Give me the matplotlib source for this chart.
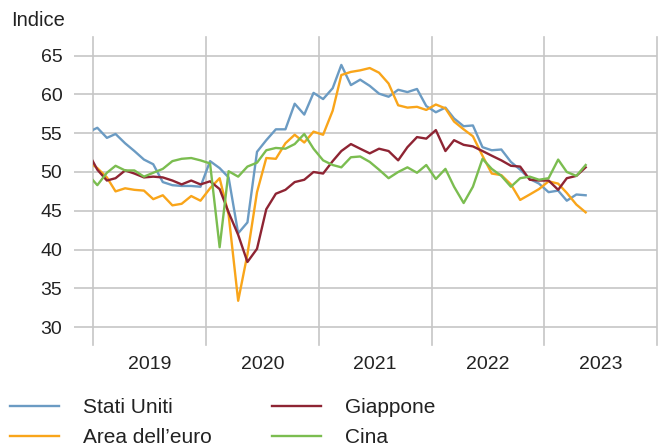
import matplotlib
matplotlib.use("Agg")
import matplotlib.pyplot as plt
import numpy as np
import pandas as pd

plt.rcParams['font.family'] = ['Liberation Sans', 'DejaVu Sans']

# monthly PMI readings, Dec 2018 - May 2023 (plotted mid-month)
months = pd.date_range('2018-12-01', '2023-05-01', freq='MS') + pd.Timedelta(days=14)

stati_uniti = [55.1,
               55.7, 54.4, 54.9, 53.7, 52.7, 51.6, 51.0, 48.7, 48.3, 48.2, 48.2, 48.1,
               51.4, 50.5, 49.3, 42.1, 43.5, 52.6, 54.1, 55.5, 55.5, 58.8, 57.4, 60.2,
               59.4, 60.8, 63.8, 61.2, 61.9, 61.1, 60.1, 59.7, 60.6, 60.3, 60.7, 58.5,
               57.7, 58.3, 56.9, 55.9, 56.0, 53.2, 52.8, 52.9, 51.3, 50.3, 49.1, 48.5,
               47.4, 47.6, 46.3, 47.1, 47.0]
area_euro = [51.4,
             50.5, 49.3, 47.5, 47.9, 47.7, 47.6, 46.5, 47.0, 45.7, 45.9, 46.9, 46.3,
             47.9, 49.2, 44.5, 33.4, 39.4, 47.4, 51.8, 51.7, 53.7, 54.8, 53.8, 55.2,
             54.8, 57.9, 62.5, 62.9, 63.1, 63.4, 62.8, 61.4, 58.6, 58.3, 58.4, 58.0,
             58.7, 58.2, 56.5, 55.5, 54.6, 52.1, 49.8, 49.6, 48.4, 46.4, 47.1, 47.8,
             48.8, 48.5, 47.3, 45.8, 44.8]
giappone = [52.6,
            50.3, 48.9, 49.2, 50.2, 49.8, 49.3, 49.4, 49.3, 48.9, 48.4, 48.9, 48.4,
            48.8, 47.8, 44.8, 41.9, 38.4, 40.1, 45.2, 47.2, 47.7, 48.7, 49.0, 50.0,
            49.8, 51.4, 52.7, 53.6, 53.0, 52.4, 53.0, 52.7, 51.5, 53.2, 54.5, 54.3,
            55.4, 52.7, 54.1, 53.5, 53.3, 52.7, 52.1, 51.5, 50.8, 50.7, 49.0, 48.9,
            48.9, 47.7, 49.2, 49.5, 50.6]
cina = [49.7,
        48.3, 49.9, 50.8, 50.2, 50.2, 49.4, 49.9, 50.4, 51.4, 51.7, 51.8, 51.5,
        51.1, 40.3, 50.1, 49.4, 50.7, 51.2, 52.8, 53.1, 53.0, 53.6, 54.9, 53.0,
        51.5, 50.9, 50.6, 51.9, 52.0, 51.3, 50.3, 49.2, 50.0, 50.6, 49.9, 50.9,
        49.1, 50.4, 48.1, 46.0, 48.1, 51.7, 50.4, 49.5, 48.1, 49.2, 49.4, 49.0,
        49.2, 51.6, 50.0, 49.5, 50.9]

labels = ['Stati Uniti', 'Area dell\u2019euro', 'Giappone', 'Cina']
series = [stati_uniti, area_euro, giappone, cina]
colors = ['#6b9bc3', '#f9a51a', '#8e2433', '#7bbd50']
years = [2019, 2020, 2021, 2022, 2023]

grid_col = '#c6c6c6'
txt_col = '#222222'

fig = plt.figure(figsize=(6.67, 4.46), dpi=100)
ax = fig.add_axes([93 / 667, 1 - 345 / 446, (657 - 93) / 667, (345 - 37) / 446])

handles = []
for s, c, lab in zip(series, colors, labels):
    h, = ax.plot(months, s, color=c, lw=1.7, label=lab, zorder=3)
    handles.append(h)

ax.set_xlim(pd.Timestamp('2019-01-01'), pd.Timestamp('2024-01-01'))
ax.set_ylim(27.7, 67.4)

# year separators
for y in range(2019, 2025):
    ax.axvline(pd.Timestamp(f'{y}-01-01'), color=grid_col, lw=1.2, zorder=1, clip_on=False)

ax.set_yticks(range(30, 70, 5))
ax.yaxis.grid(True, color=grid_col, lw=1.2, zorder=1)
ax.tick_params(axis='y', length=14, width=1.2, color=grid_col, pad=8, labelsize=14, labelcolor=txt_col)

ax.set_xticks([pd.Timestamp(f'{y}-01-01') for y in years])
ax.set_xticklabels([])
ax.tick_params(axis='x', which='major', length=0)
ax.set_xticks([pd.Timestamp(f'{y}-07-02') for y in years], minor=True)
ax.set_xticklabels([str(y) for y in years], minor=True)
ax.tick_params(axis='x', which='minor', length=0, pad=8, labelsize=14, labelcolor=txt_col)

for sp in ax.spines.values():
    sp.set_visible(False)
ax.set_axisbelow(True)

fig.text(11 / 667, 1 - 20 / 446, 'Indice', fontsize=14.5, va='center', ha='left', color=txt_col)

leg = fig.legend(handles, labels, ncol=2, loc='upper left', bbox_to_anchor=(10 / 667, 1 - 398 / 446),
                 frameon=False, fontsize=15, handlelength=2.35, handletextpad=1.15,
                 columnspacing=2.9, labelspacing=0.55, borderaxespad=0, borderpad=0)
for t in leg.get_texts():
    t.set_color(txt_col)

fig.savefig('out.png', dpi=100)
